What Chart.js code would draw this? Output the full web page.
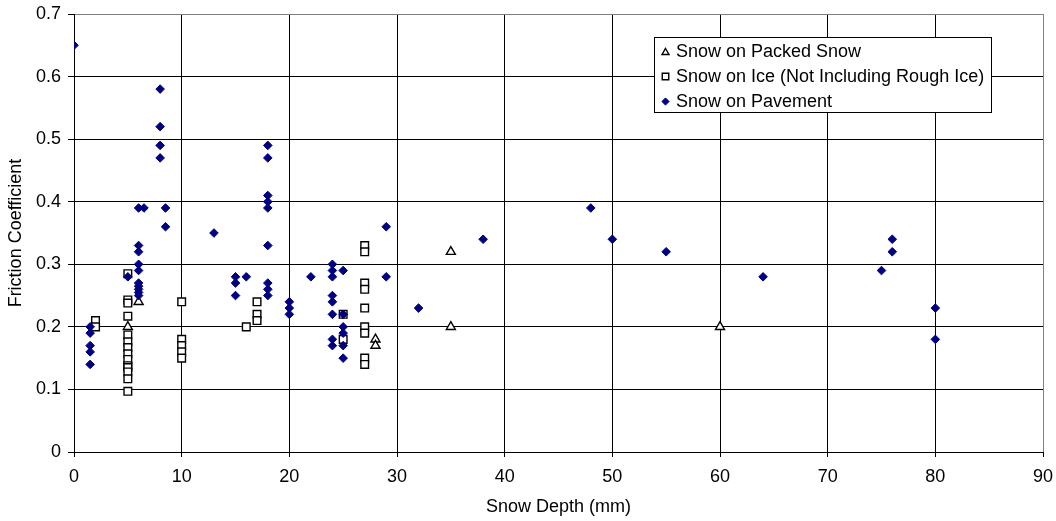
<!DOCTYPE html>
<html>
<head>
<meta charset="utf-8">
<script src="https://cdn.jsdelivr.net/npm/chart.js@4.4.1/dist/chart.umd.min.js"></script>
<style>
  html, body { margin: 0; padding: 0; background: #ffffff; }
  #wrap { width: 1056px; height: 521px; }
</style>
</head>
<body>
<div id="wrap"><canvas id="c" width="1056" height="521"></canvas></div>
<script>
// ---- Data ----
const seriesNames = [
  "Snow on Packed Snow",
  "Snow on Ice (Not Including Rough Ice)",
  "Snow on Pavement"
];

const packedX = [6, 5, 28, 28, 35, 35, 60];
const packedY = [0.24, 0.20, 0.18, 0.17, 0.32, 0.20, 0.20];

const iceX = [2, 2,
  5, 5, 5, 5, 5, 5, 5, 5, 5, 5, 5, 5, 5, 5,
  10, 10, 10, 10, 10,
  16, 17, 17, 17,
  25, 25,
  27, 27, 27, 27, 27, 27, 27, 27, 27];
const iceY = [0.21, 0.20,
  0.285, 0.243, 0.238, 0.217, 0.187, 0.176, 0.167, 0.157, 0.148, 0.138, 0.135, 0.128, 0.117, 0.097,
  0.24, 0.18, 0.17, 0.16, 0.15,
  0.20, 0.24, 0.22, 0.21,
  0.22, 0.18,
  0.33, 0.32, 0.27, 0.26, 0.23, 0.20, 0.19, 0.15, 0.14];

const paveX = [0,
  1.5, 1.5, 1.5, 1.5, 1.5,
  5,
  6, 6.5, 6, 6, 6, 6, 6, 6, 6, 6, 6,
  8, 8, 8, 8, 8.5, 8.5,
  13,
  15, 15, 15, 16,
  18, 18, 18, 18, 18, 18, 18, 18, 18,
  20, 20, 20,
  22,
  24, 24, 24, 24, 24, 24, 24, 24,
  25, 25, 25, 25, 25, 25,
  29, 29, 32, 38, 48, 50, 55, 64, 75, 76, 76, 80, 80];
const paveY = [0.65,
  0.20, 0.19, 0.17, 0.16, 0.14,
  0.28,
  0.39, 0.39, 0.33, 0.32, 0.30, 0.29, 0.27, 0.265, 0.26, 0.255, 0.25,
  0.58, 0.52, 0.49, 0.47, 0.39, 0.36,
  0.35,
  0.28, 0.27, 0.25, 0.28,
  0.49, 0.47, 0.41, 0.40, 0.39, 0.33, 0.27, 0.26, 0.25,
  0.24, 0.23, 0.22,
  0.28,
  0.30, 0.29, 0.28, 0.25, 0.24, 0.22, 0.18, 0.17,
  0.29, 0.22, 0.20, 0.19, 0.17, 0.15,
  0.36, 0.28, 0.23, 0.34, 0.39, 0.34, 0.32, 0.28, 0.29, 0.34, 0.32, 0.23, 0.18];

const xTickValues = [0, 10, 20, 30, 40, 50, 60, 70, 80, 90];
const xTickLabels = ["0", "10", "20", "30", "40", "50", "60", "70", "80", "90"];
const yTickValues = [0, 0.1, 0.2, 0.3, 0.4, 0.5, 0.6, 0.7];
const yTickLabels = ["0", "0.1", "0.2", "0.3", "0.4", "0.5", "0.6", "0.7"];

const xTitle = "Snow Depth (mm)";
const yTitle = "Friction Coefficient";

// ---- Build datasets ----
function pts(xs, ys) { return xs.map((x, i) => ({ x: x, y: ys[i] })); }

const FONT = "'Liberation Sans', Arial, Helvetica, sans-serif";

const datasets = [
  {
    label: seriesNames[0], data: pts(packedX, packedY),
    pointStyle: 'triangle', pointRadius: 5.2, borderWidth: 1.4,
    borderColor: '#000000', backgroundColor: '#ffffff', order: 3
  },
  {
    label: seriesNames[1], data: pts(iceX, iceY),
    pointStyle: 'rect', pointRadius: 5.4, borderWidth: 1.4,
    borderColor: '#000000', backgroundColor: '#ffffff', order: 2
  },
  {
    label: seriesNames[2], data: pts(paveX, paveY),
    pointStyle: 'rectRot', pointRadius: 4.3, borderWidth: 1,
    borderColor: '#000080', backgroundColor: '#000080', order: 1
  }
];

function labelFor(values, labels, v) {
  for (let i = 0; i < values.length; i++) {
    if (Math.abs(values[i] - v) < 1e-6) return labels[i];
  }
  return '';
}

// Legend box drawn inside the plot area
const boxLegend = {
  id: 'boxLegend',
  afterDraw(chart) {
    const ctx = chart.ctx;
    const left = 654.5, top = 37.5, right = 991.5, bottom = 112.5;
    ctx.save();
    ctx.fillStyle = '#ffffff';
    ctx.fillRect(left, top, right - left, bottom - top);
    ctx.strokeStyle = '#000000';
    ctx.lineWidth = 1;
    ctx.strokeRect(left, top, right - left, bottom - top);
    const rows = [51.5, 76.5, 101.5];
    const sizes = [4, 4.6, 3.6];
    chart.data.datasets.forEach((ds, i) => {
      ctx.save();
      ctx.fillStyle = ds.backgroundColor;
      ctx.strokeStyle = ds.borderColor;
      ctx.lineWidth = ds.borderWidth;
      Chart.helpers.drawPoint(ctx, { pointStyle: ds.pointStyle, radius: sizes[i], rotation: 0, borderWidth: ds.borderWidth }, 665.5, rows[i] + (ds.pointStyle === 'triangle' ? 1 : 0));
      ctx.restore();
      ctx.fillStyle = '#000000';
      ctx.font = '18px ' + FONT;
      ctx.textBaseline = 'middle';
      ctx.textAlign = 'left';
      ctx.fillText(ds.label, 676, rows[i] + 1);
    });
    ctx.restore();
  }
};

const gridColX = (c) => (c.tick && Math.abs(c.tick.value - 90) < 1e-6) ? '#808080' : '#000000';
const gridColY = (c) => (c.tick && Math.abs(c.tick.value - 0.7) < 1e-6) ? '#808080' : '#000000';

new Chart(document.getElementById('c').getContext('2d'), {
  type: 'scatter',
  data: { datasets: datasets },
  options: {
    responsive: false,
    animation: false,
    devicePixelRatio: 1,
    layout: { padding: { top: 14, right: 13, left: 0, bottom: 0 } },
    plugins: {
      legend: { display: false },
      tooltip: { enabled: false }
    },
    scales: {
      x: {
        type: 'linear', min: 0, max: 90,
        afterBuildTicks: (s) => { s.ticks = xTickValues.map(v => ({ value: v })); },
        afterFit: (s) => { s.height = 69; s.paddingLeft = 0; s.paddingRight = 0; },
        ticks: {
          color: '#000000', padding: 9, maxRotation: 0, autoSkip: false,
          font: { family: FONT, size: 18 },
          callback: (v) => labelFor(xTickValues, xTickLabels, v)
        },
        grid: { color: gridColX, tickColor: '#000000', tickLength: 5, lineWidth: 1 },
        border: { color: '#000000', width: 1 },
        title: {
          display: true, text: xTitle, color: '#000000',
          font: { family: FONT, size: 18 }, padding: { top: 0, bottom: 3 }
        }
      },
      y: {
        type: 'linear', min: 0, max: 0.7,
        afterBuildTicks: (s) => { s.ticks = yTickValues.map(v => ({ value: v })); },
        afterFit: (s) => { s.width = 74; s.paddingTop = 0; s.paddingBottom = 0; },
        ticks: {
          color: '#000000', padding: 7, autoSkip: false,
          font: { family: FONT, size: 18 },
          callback: (v) => labelFor(yTickValues, yTickLabels, v)
        },
        grid: { color: gridColY, tickColor: '#000000', tickLength: 6, lineWidth: 1 },
        border: { color: '#000000', width: 1 },
        title: {
          display: true, text: yTitle, color: '#000000',
          font: { family: FONT, size: 18 }, padding: { top: 5, bottom: 0 }
        }
      }
    }
  },
  plugins: [boxLegend]
});
</script>
</body>
</html>
